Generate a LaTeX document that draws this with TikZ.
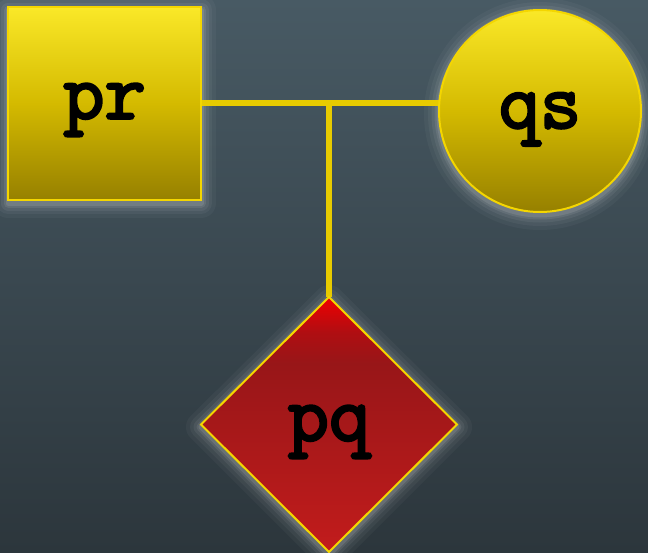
\documentclass[tikz,border=0pt]{standalone}
\usepackage{fontspec}
\newfontfamily\lblfont{Latin Modern Mono}[FakeBold=3.2]
\usetikzlibrary{shapes.geometric}
\definecolor{bgtop}{RGB}{72,90,100}
\definecolor{bgbot}{RGB}{44,54,60}
\definecolor{ytop}{RGB}{250,232,40}
\definecolor{ymid}{RGB}{212,186,0}
\definecolor{ybot}{RGB}{150,128,0}
\definecolor{yedge}{RGB}{244,214,0}
\definecolor{rtop}{RGB}{240,0,0}
\definecolor{rhigh}{RGB}{175,14,18}
\definecolor{rmid}{RGB}{152,22,24}
\definecolor{rbot}{RGB}{194,28,28}
% red fill: bright tip, dark band below it, lighter again towards the bottom
\pgfdeclareverticalshading{redfill}{100bp}{%
  color(0bp)=(rbot); color(25bp)=(rbot); color(62bp)=(rmid);
  color(68bp)=(rhigh); color(75bp)=(rtop); color(100bp)=(rtop)}
\tikzset{
  lbl/.style={font=\lblfont\fontsize{80}{80}\selectfont, text=black, anchor=base, inner sep=0pt},
  yshape/.style={draw=yedge, line width=2pt, top color=ytop, bottom color=ybot, middle color=ymid},
  rshape/.style={draw=yedge, line width=2pt, shading=redfill},
  link/.style={draw=yedge!95!black, line width=6.5pt},
}
\newcommand{\glowpath}[1]{%
  \foreach \w/\o in {30/0.035,22/0.045,15/0.06,9/0.08,5/0.1}{%
    \draw[white, opacity=\o, line width=\w pt, line join=round] #1;}%
}
\begin{document}
\begin{tikzpicture}[x=1pt,y=-1pt]
  \useasboundingbox (0,0) rectangle (648,552);
  \shade[top color=bgtop, bottom color=bgbot] (0,0) rectangle (648,552);

  % soft halos behind the shapes
  \glowpath{(8,10) rectangle (201,203)}
  \glowpath{(540,114) circle[radius=101]}
  \glowpath{(329,300) -- (457,427) -- (329,555) -- (201,427) -- cycle}

  % node outlines and the junction of the connectors
  \coordinate (j) at (329,103);
  \node[minimum width=193pt, minimum height=193pt, inner sep=0pt, outer sep=0pt] (pr) at (104.5,103.5) {};
  \node[circle, minimum size=202pt, inner sep=0pt, outer sep=0pt] (qs) at (540,111) {};
  \node[diamond, minimum width=256pt, minimum height=255pt, inner sep=0pt, outer sep=0pt, aspect=1] (pq) at (329,424.5) {};
  \draw[link] (pr.east |- j) -- (qs.west |- j);
  \draw[link] (j) -- (pq.north);

  % shapes
  \shade[yshape] (pr.south west) rectangle (pr.north east);
  \shade[yshape] (qs.center) circle[radius=101];
  \shade[rshape] (pq.north) -- (pq.east) -- (pq.south) -- (pq.west) -- cycle;

  % labels
  \node[lbl] (tpr) at ([yshift=-15pt]pr.center) {pr};
  \node[lbl] (tqs) at ([yshift=-17pt]qs.center) {qs};
  \node[lbl] (tpq) at ([yshift=-16pt]pq.center) {pq};
\end{tikzpicture}
\end{document}
